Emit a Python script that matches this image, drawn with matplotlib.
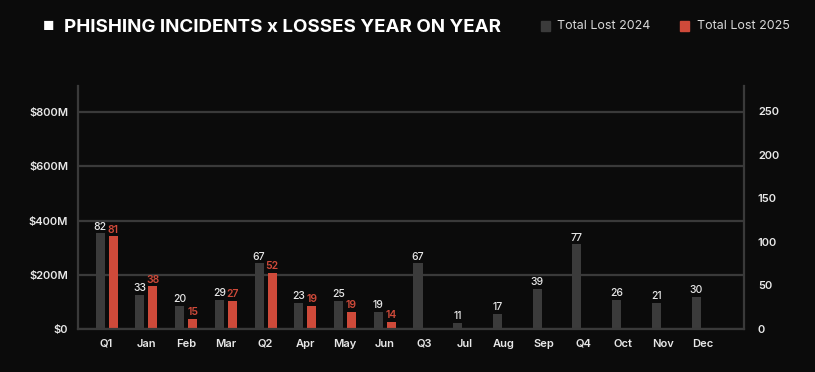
import matplotlib
matplotlib.use("Agg")
import matplotlib.pyplot as plt
import numpy as np

periods = ["Q1", "Jan", "Feb", "Mar", "Q2", "Apr", "May", "Jun",
           "Q3", "Jul", "Aug", "Sep", "Q4", "Oct", "Nov", "Dec"]
# losses in $M (bar heights)
lost_2024 = [353, 126, 86, 108, 242, 97, 105, 64, 242, 23, 57, 148, 312, 108, 97, 118]
lost_2025 = [342, 157, 38, 104, 208, 86, 64, 27]
# incident counts (bar labels)
incidents_2024 = [82, 33, 20, 29, 67, 23, 25, 19, 67, 11, 17, 39, 77, 26, 21, 30]
incidents_2025 = [81, 38, 15, 27, 52, 19, 19, 14]

bg = "#0b0b0b"
grey = "#3b3b3b"
red = "#cf4a3a"
line = "#3a3a3a"
plt.rcParams["font.family"] = ["Inter", "DejaVu Sans"]

fig = plt.figure(figsize=[8.15, 3.72], dpi=100, facecolor=bg)
ax = fig.add_axes([0.0957, 0.1156, 0.8172, 0.6532])
ax.set_facecolor(bg)

x = np.arange(len(periods))
w = 0.227
off = 0.164
ax.bar(x - off, lost_2024, w, color=grey)
x2 = x[:len(lost_2025)]
ax.bar(x2 + off, lost_2025, w, color=red)

for xi, h, n in zip(x - off, lost_2024, incidents_2024):
    ax.text(xi, h + 6, str(n), ha="center", va="bottom", color="#e8e8e8",
            fontsize=7.5, fontweight="medium")
for xi, h, n in zip(x2 + off, lost_2025, incidents_2025):
    ax.text(xi, h + 6, str(n), ha="center", va="bottom", color=red,
            fontsize=7.5, fontweight="semibold")

ax.set_xlim(-0.72, 16.04)
ax.set_ylim(0, 897)
ax.set_yticks([0, 200, 400, 600, 800])
ax.set_yticklabels(["$0", "$200M", "$400M", "$600M", "$800M"])
ax.set_xticks(x)
ax.set_xticklabels(periods)
ax.grid(axis="y", color=line, linewidth=1.6)
ax.set_axisbelow(True)
ax.tick_params(axis="both", length=0, colors="#e8e8e8", labelsize=8)
ax.tick_params(axis="x", pad=7)
ax.tick_params(axis="y", pad=7)
for lbl in ax.get_xticklabels() + ax.get_yticklabels():
    lbl.set_fontweight("semibold")
for s in ["left", "right", "bottom"]:
    ax.spines[s].set_color(line)
    ax.spines[s].set_linewidth(1.6)
ax.spines["top"].set_visible(False)

ax2 = ax.twinx()
ax2.set_ylim(0, 279)
ax2.set_yticks([0, 50, 100, 150, 200, 250])
ax2.tick_params(axis="y", length=0, colors="#e8e8e8", labelsize=8, pad=10)
for lbl in ax2.get_yticklabels():
    lbl.set_fontweight("semibold")
for s in ax2.spines.values():
    s.set_visible(False)

fig.text(0.053, 0.927, "\u25a0", color="white", fontsize=9, va="center")
fig.text(0.079, 0.927, "PHISHING INCIDENTS x LOSSES YEAR ON YEAR", color="white",
         fontsize=13.5, fontweight="bold", va="center")

fig.patches.append(plt.Rectangle((541 / 815, 1 - 31 / 372), 9 / 815, 10 / 372,
                                 color=grey, transform=fig.transFigure))
fig.text(557 / 815, 1 - 26 / 372, "Total Lost 2024", color="#d8d8d8", fontsize=9, va="center")
fig.patches.append(plt.Rectangle((680 / 815, 1 - 31 / 372), 9 / 815, 10 / 372,
                                 color=red, transform=fig.transFigure))
fig.text(697 / 815, 1 - 26 / 372, "Total Lost 2025", color="#d8d8d8", fontsize=9, va="center")

fig.savefig("out.png", dpi=100, facecolor=bg)
